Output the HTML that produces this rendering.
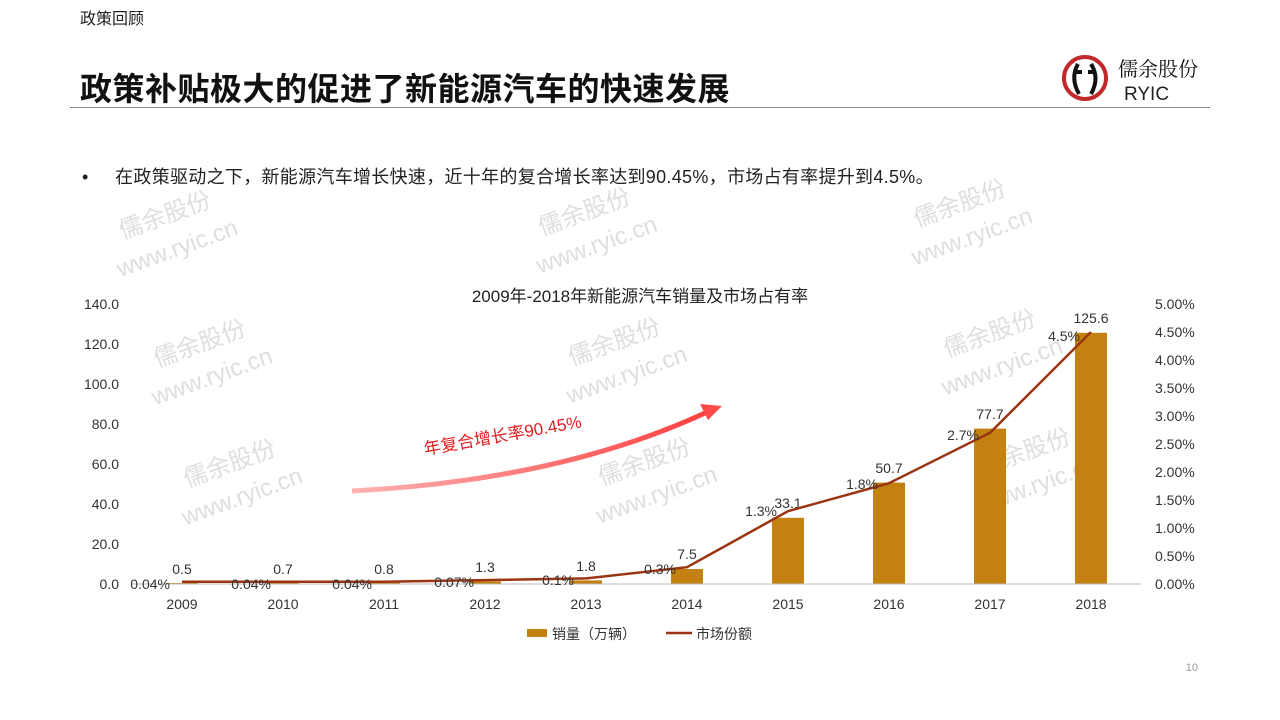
<!DOCTYPE html>
<html><head><meta charset="utf-8"><style>
body{margin:0;width:1280px;height:720px;background:#fff;overflow:hidden;position:relative;font-family:"Liberation Sans","Noto Sans CJK SC",sans-serif}
.a{position:absolute;white-space:nowrap}
</style></head><body>
<div class="a" style="left:80px;top:5px;font-size:16px;color:#222">政策回顾</div>
<div class="a" style="left:80px;top:64px;font-size:32px;letter-spacing:0.5px;font-weight:bold;color:#111">政策补贴极大的促进了新能源汽车的快速发展</div>
<div class="a" style="left:70px;top:107px;width:1140px;height:1px;background:#888"></div>
<div class="a" style="left:82px;top:163px;font-size:18px;letter-spacing:0.3px;color:#222">•&nbsp;&nbsp;&nbsp;&nbsp;&nbsp;在政策驱动之下，新能源汽车增长快速，近十年的复合增长率达到90.45%，市场占有率提升到4.5%。</div>
<svg class="a" style="left:1060px;top:52px" width="150" height="56">
<circle cx="25" cy="26" r="21" fill="none" stroke="#c0282a" stroke-width="4"/>
<path d="M18 12 Q10 26 19 42 M31 12 Q40 26 31 42 M16 20 L22 20 M28 20 L34 20" stroke="#111" stroke-width="4" fill="none"/>
<text x="58" y="24" font-size="20" fill="#111" font-family="Noto Serif CJK SC,serif">儒余股份</text>
<text x="64" y="48" font-size="19" fill="#222" font-family="Liberation Sans,sans-serif">RYIC</text>
</svg>
<svg class="a" style="left:0;top:0" width="1280" height="720" font-family="Liberation Sans,Noto Sans CJK SC,sans-serif">
<g fill="#d6d6d6" font-size="24" opacity="0.8">
<g transform="rotate(-20 190 220)"><text x="120" y="215">儒余股份</text><text x="105" y="250">www.ryic.cn</text></g>
<g transform="rotate(-20 600 220)"><text x="540" y="215">儒余股份</text><text x="525" y="250">www.ryic.cn</text></g>
<g transform="rotate(-20 980 210)"><text x="915" y="205">儒余股份</text><text x="900" y="240">www.ryic.cn</text></g>
<g transform="rotate(-20 220 350)"><text x="155" y="345">儒余股份</text><text x="140" y="380">www.ryic.cn</text></g>
<g transform="rotate(-20 630 350)"><text x="570" y="345">儒余股份</text><text x="555" y="380">www.ryic.cn</text></g>
<g transform="rotate(-20 1010 340)"><text x="945" y="335">儒余股份</text><text x="930" y="370">www.ryic.cn</text></g>
<g transform="rotate(-20 250 470)"><text x="185" y="465">儒余股份</text><text x="170" y="500">www.ryic.cn</text></g>
<g transform="rotate(-20 660 470)"><text x="600" y="465">儒余股份</text><text x="585" y="500">www.ryic.cn</text></g>
<g transform="rotate(-20 1040 460)"><text x="980" y="455">儒余股份</text><text x="965" y="490">www.ryic.cn</text></g>
</g>
<text x="640" y="302" font-size="17" text-anchor="middle" fill="#222">2009年-2018年新能源汽车销量及市场占有率</text>
<g font-size="14" fill="#333" text-anchor="end">
<text x="119" y="589">0.0</text><text x="119" y="549">20.0</text><text x="119" y="509">40.0</text><text x="119" y="469">60.0</text><text x="119" y="429">80.0</text><text x="119" y="389">100.0</text><text x="119" y="349">120.0</text><text x="119" y="309">140.0</text>
</g>
<g font-size="14" fill="#333">
<text x="1155" y="589">0.00%</text><text x="1155" y="561">0.50%</text><text x="1155" y="533">1.00%</text><text x="1155" y="505">1.50%</text><text x="1155" y="477">2.00%</text><text x="1155" y="449">2.50%</text><text x="1155" y="421">3.00%</text><text x="1155" y="393">3.50%</text><text x="1155" y="365">4.00%</text><text x="1155" y="337">4.50%</text><text x="1155" y="309">5.00%</text>
</g>
<g fill="#c3820f">
<rect x="166" y="583" width="32" height="1"/><rect x="267" y="583" width="32" height="1.4"/><rect x="368" y="582.4" width="32" height="1.6"/><rect x="469" y="581.4" width="32" height="2.6"/><rect x="570" y="580.4" width="32" height="3.6"/><rect x="671" y="569" width="32" height="15"/><rect x="772" y="517.8" width="32" height="66.2"/><rect x="873" y="482.6" width="32" height="101.4"/><rect x="974" y="428.6" width="32" height="155.4"/><rect x="1075" y="332.8" width="32" height="251.2"/>
</g>
<line x1="132" y1="584" x2="1141" y2="584" stroke="#bbb"/>
<g font-size="14" fill="#333" text-anchor="middle">
<text x="182" y="609">2009</text><text x="283" y="609">2010</text><text x="384" y="609">2011</text><text x="485" y="609">2012</text><text x="586" y="609">2013</text><text x="687" y="609">2014</text><text x="788" y="609">2015</text><text x="889" y="609">2016</text><text x="990" y="609">2017</text><text x="1091" y="609">2018</text>
<text x="182" y="574">0.5</text><text x="283" y="574">0.7</text><text x="384" y="574">0.8</text><text x="485" y="572">1.3</text><text x="586" y="571">1.8</text><text x="687" y="559">7.5</text><text x="788" y="508">33.1</text><text x="889" y="473">50.7</text><text x="990" y="419">77.7</text><text x="1091" y="323">125.6</text>
</g>
<polyline fill="none" stroke="#9b3412" stroke-width="2.5" points="182,581.8 283,581.8 384,581.8 485,580.1 586,578.4 687,567.2 788,511.2 889,483.2 990,432.8 1091,332"/>
<g font-size="14" fill="#333" text-anchor="end">
<text x="170" y="589">0.04%</text><text x="271" y="589">0.04%</text><text x="372" y="589">0.04%</text><text x="474" y="587">0.07%</text><text x="574" y="585">0.1%</text><text x="676" y="574">0.3%</text><text x="777" y="516">1.3%</text><text x="878" y="489">1.8%</text><text x="979" y="440">2.7%</text><text x="1080" y="341">4.5%</text>
</g>
<defs><linearGradient id="g" x1="0" x2="1"><stop offset="0" stop-color="#ffb3b3"/><stop offset="1" stop-color="#ff4040"/></linearGradient></defs>
<path d="M352 491 Q560 480 705 413" fill="none" stroke="url(#g)" stroke-width="5"/>
<polygon points="722,406 700,404 708,420" fill="#ff4848"/>
<text x="425" y="455" font-size="17" fill="#e02020" transform="rotate(-10 425 455)">年复合增长率90.45%</text>
<rect x="527" y="629" width="20" height="8" fill="#c3820f"/>
<text x="552" y="639" font-size="14" fill="#333">销量（万辆）</text>
<line x1="666" y1="633" x2="692" y2="633" stroke="#9b3412" stroke-width="2.5"/>
<text x="696" y="639" font-size="14" fill="#333">市场份额</text>
<text x="1198" y="671" font-size="11" fill="#999" text-anchor="end">10</text>
</svg>
</body></html>
